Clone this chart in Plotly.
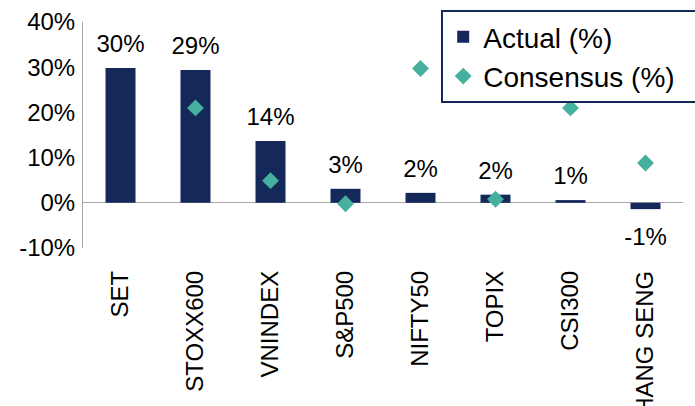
import plotly.graph_objects as go

categories = ["SET", "STOXX600", "VNINDEX", "S&P500", "NIFTY50", "TOPIX", "CSI300", "HANG SENG"]
actual = [29.8, 29.4, 13.7, 3.1, 2.2, 1.8, 0.6, -1.4]
consensus = [None, 21.0, 4.9, -0.2, 29.7, 0.8, 21.0, 8.8]
y_ticks = [-10, 0, 10, 20, 30, 40]
y_tick_labels = ["-10%", "0%", "10%", "20%", "30%", "40%"]

NAVY = "#14285A"
TEAL = "#46B09E"
AXIS = "#A6A6A6"
FONT = "Arial, Liberation Sans, sans-serif"

labels = [f"{v:.0f}%" for v in actual]
label_pos = ["top center" if v >= 0 else "bottom center" for v in actual]
label_gap = [14 if v >= 0 else 27 for v in actual]

fig = go.Figure()
fig.add_trace(go.Bar(
    x=categories, y=actual, name="Actual (%)",
    marker=dict(color=NAVY, line=dict(width=0)),
))
fig.add_trace(go.Scatter(
    x=categories, y=actual, mode="markers+text", text=labels,
    textposition=label_pos, showlegend=False, hoverinfo="skip",
    marker=dict(size=label_gap, opacity=0, color=NAVY),
    textfont=dict(size=24, color="#000000", family=FONT),
))
fig.add_trace(go.Scatter(
    x=categories, y=consensus, mode="markers",
    name="Consensus (%)\u00a0\u00a0",
    marker=dict(symbol="diamond", size=13, color=TEAL, line=dict(width=0)),
))

fig.update_layout(
    width=695, height=406,
    margin=dict(l=83, r=12, t=22, b=158, autoexpand=False),
    paper_bgcolor="white", plot_bgcolor="white",
    bargap=0.6,
    font=dict(family=FONT, size=24, color="#000000"),
    legend=dict(
        x=0.597, xanchor="left", y=1.053, yanchor="top",
        bgcolor="white", bordercolor=NAVY, borderwidth=2,
        font=dict(size=28, family=FONT, color="#000000"),
        tracegroupgap=0, itemwidth=30,
    ),
    xaxis=dict(
        type="category", range=[-0.5, len(categories) - 0.5],
        showline=False, showgrid=False, ticks="", tickangle=-90,
        tickfont=dict(size=24, family=FONT, color="#000000"),
        automargin=False, ticklabelstandoff=17,
    ),
    yaxis=dict(
        range=[-10, 40], tickmode="array", tickvals=y_ticks, ticktext=y_tick_labels,
        showgrid=False, showline=True, linecolor=AXIS, linewidth=1,
        zeroline=True, zerolinecolor=AXIS, zerolinewidth=1,
        ticks="", tickfont=dict(size=24, family=FONT, color="#000000"),
        automargin=False, ticklabelstandoff=2,
    ),
)

fig.write_html(
    "out.html",
    config={"displayModeBar": False},
    post_script="document.body.style.margin='0';document.body.style.overflow='hidden';",
)
